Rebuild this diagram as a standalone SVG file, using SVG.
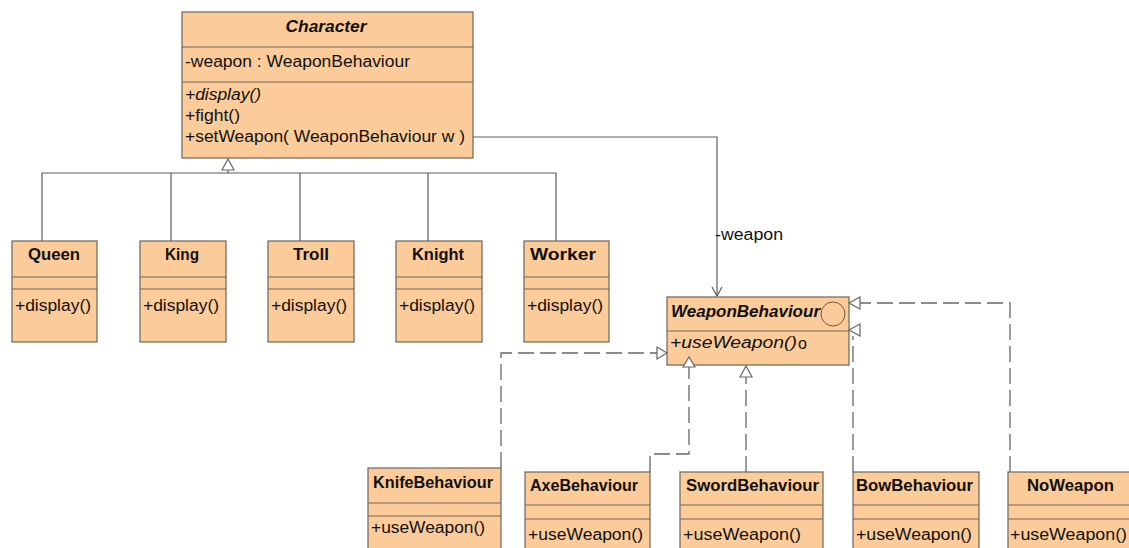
<svg xmlns="http://www.w3.org/2000/svg" width="1129" height="548" viewBox="0 0 1129 548">
  <style>
    .box { fill: #fccb9a; stroke: #6e6458; stroke-width: 1.2; }
    .div { stroke: #6e6458; stroke-width: 1.2; fill: none; }
    .t { font-family: "Liberation Sans", Arial, sans-serif; font-size: 16px; fill: #111; }
    .title { font-family: "Liberation Sans", Arial, sans-serif; font-size: 16px; font-weight: bold; fill: #111; }
    .it { font-style: italic; }
    .line { stroke: #5f5f5f; stroke-width: 1.2; fill: none; }
    .dash { stroke: #666; stroke-width: 1.3; fill: none; stroke-dasharray: 16 6; }
    .tri { fill: #fff; stroke: #666; stroke-width: 1.2; }
  </style>

  <!-- class nodes -->
  <g id="character">
    <rect class="box" x="182" y="12" width="291" height="146"/>
    <line class="div" x1="182" y1="47" x2="473" y2="47"/>
    <line class="div" x1="182" y1="82" x2="473" y2="82"/>
    <text class="title it" x="326" y="32" text-anchor="middle" font-size="17" textLength="81" lengthAdjust="spacingAndGlyphs">Character</text>
    <text class="t" x="185" y="67" textLength="225" lengthAdjust="spacingAndGlyphs">-weapon : WeaponBehaviour</text>
    <text class="t it" x="185" y="100" textLength="76" lengthAdjust="spacingAndGlyphs">+display()</text>
    <text class="t" x="185" y="121" textLength="55" lengthAdjust="spacingAndGlyphs">+fight()</text>
    <text class="t" x="185" y="142" textLength="280" lengthAdjust="spacingAndGlyphs">+setWeapon( WeaponBehaviour w )</text>
  </g>

  <g id="queen">
    <rect class="box" x="12" y="241" width="85" height="101"/>
    <line class="div" x1="12" y1="277" x2="97" y2="277"/>
    <line class="div" x1="12" y1="289" x2="97" y2="289"/>
    <text class="title" x="54" y="260" text-anchor="middle" textLength="52" lengthAdjust="spacingAndGlyphs">Queen</text>
    <text class="t" x="15" y="311" textLength="76" lengthAdjust="spacingAndGlyphs">+display()</text>
  </g>
  <g id="king">
    <rect class="box" x="140" y="241" width="86" height="101"/>
    <line class="div" x1="140" y1="277" x2="226" y2="277"/>
    <line class="div" x1="140" y1="289" x2="226" y2="289"/>
    <text class="title" x="182" y="260" text-anchor="middle" textLength="34" lengthAdjust="spacingAndGlyphs">King</text>
    <text class="t" x="143" y="311" textLength="76" lengthAdjust="spacingAndGlyphs">+display()</text>
  </g>
  <g id="troll">
    <rect class="box" x="268" y="241" width="86" height="101"/>
    <line class="div" x1="268" y1="277" x2="354" y2="277"/>
    <line class="div" x1="268" y1="289" x2="354" y2="289"/>
    <text class="title" x="311" y="260" text-anchor="middle" textLength="36" lengthAdjust="spacingAndGlyphs">Troll</text>
    <text class="t" x="271" y="311" textLength="76" lengthAdjust="spacingAndGlyphs">+display()</text>
  </g>
  <g id="knight">
    <rect class="box" x="396" y="241" width="86" height="101"/>
    <line class="div" x1="396" y1="277" x2="482" y2="277"/>
    <line class="div" x1="396" y1="289" x2="482" y2="289"/>
    <text class="title" x="438" y="260" text-anchor="middle" textLength="52" lengthAdjust="spacingAndGlyphs">Knight</text>
    <text class="t" x="399" y="311" textLength="76" lengthAdjust="spacingAndGlyphs">+display()</text>
  </g>
  <g id="worker">
    <rect class="box" x="524" y="241" width="85" height="101"/>
    <line class="div" x1="524" y1="277" x2="609" y2="277"/>
    <line class="div" x1="524" y1="289" x2="609" y2="289"/>
    <text class="title" x="530" y="260" textLength="66" lengthAdjust="spacingAndGlyphs">Worker</text>
    <text class="t" x="527" y="311" textLength="76" lengthAdjust="spacingAndGlyphs">+display()</text>
  </g>

  <g id="weaponbehaviour">
    <rect class="box" x="667" y="297" width="182" height="68"/>
    <line class="div" x1="667" y1="331" x2="849" y2="331"/>
    <text class="title it" x="671" y="317" textLength="149" lengthAdjust="spacingAndGlyphs">WeaponBehaviour</text>
    <circle cx="833" cy="314" r="12" fill="none" stroke="#6e5a48" stroke-width="1"/>
    <text class="t it" x="670" y="348" textLength="127" lengthAdjust="spacingAndGlyphs">+useWeapon()</text>
    <text class="t" x="798" y="349" font-size="9">o</text>
  </g>

  <g id="knife">
    <rect class="box" x="368" y="468" width="133" height="90"/>
    <line class="div" x1="368" y1="503" x2="501" y2="503"/>
    <line class="div" x1="368" y1="516" x2="501" y2="516"/>
    <text class="title" x="373" y="488" textLength="120" lengthAdjust="spacingAndGlyphs">KnifeBehaviour</text>
    <text class="t" x="371" y="533" textLength="114" lengthAdjust="spacingAndGlyphs">+useWeapon()</text>
  </g>
  <g id="axe">
    <rect class="box" x="525" y="472" width="125" height="90"/>
    <line class="div" x1="525" y1="505" x2="650" y2="505"/>
    <line class="div" x1="525" y1="519" x2="650" y2="519"/>
    <text class="title" x="530" y="491" textLength="108" lengthAdjust="spacingAndGlyphs">AxeBehaviour</text>
    <text class="t" x="528" y="540" textLength="115" lengthAdjust="spacingAndGlyphs">+useWeapon()</text>
  </g>
  <g id="sword">
    <rect class="box" x="680" y="472" width="143" height="90"/>
    <line class="div" x1="680" y1="505" x2="823" y2="505"/>
    <line class="div" x1="680" y1="519" x2="823" y2="519"/>
    <text class="title" x="686" y="491" textLength="133" lengthAdjust="spacingAndGlyphs">SwordBehaviour</text>
    <text class="t" x="683" y="540" textLength="118" lengthAdjust="spacingAndGlyphs">+useWeapon()</text>
  </g>
  <g id="bow">
    <rect class="box" x="853" y="472" width="126" height="90"/>
    <line class="div" x1="853" y1="505" x2="979" y2="505"/>
    <line class="div" x1="853" y1="519" x2="979" y2="519"/>
    <text class="title" x="856" y="491" textLength="117" lengthAdjust="spacingAndGlyphs">BowBehaviour</text>
    <text class="t" x="856" y="540" textLength="116" lengthAdjust="spacingAndGlyphs">+useWeapon()</text>
  </g>
  <g id="noweapon">
    <rect class="box" x="1008" y="472" width="130" height="90"/>
    <line class="div" x1="1008" y1="505" x2="1138" y2="505"/>
    <line class="div" x1="1008" y1="519" x2="1138" y2="519"/>
    <text class="title" x="1027" y="491" textLength="87" lengthAdjust="spacingAndGlyphs">NoWeapon</text>
    <text class="t" x="1010" y="540" textLength="117" lengthAdjust="spacingAndGlyphs">+useWeapon()</text>
  </g>

  <!-- connectors -->
  <g id="connectors">
    <!-- generalization tree to Character -->
    <path class="line" d="M42,241 V173 H556 V241 M171,173 V241 M300,173 V241 M428,173 V241 M228,173 V170"/>
    <polygon class="tri" points="228,159 222,170 234,170"/>

    <!-- association Character -> WeaponBehaviour -->
    <path class="line" d="M473,137 H717 V296"/>
    <polyline class="line" points="712,287 717,296 722,287"/>
    <text class="t" x="715" y="240" textLength="68" lengthAdjust="spacingAndGlyphs">-weapon</text>

    <!-- realizations of WeaponBehaviour -->
    <path class="dash" d="M1010,472 V303 H860"/>
    <polygon class="tri" points="849,303 860,297 860,309"/>

    <path class="dash" d="M853,472 V336"/>
    <polygon class="tri" points="849,330 860,324 860,336"/>

    <path class="dash" d="M501,468 V353 H657"/>
    <polygon class="tri" points="667,353 657,347 657,359"/>

    <path class="dash" d="M650,472 V454 H689 V367"/>
    <polygon class="tri" points="689,357 683,367 695,367"/>

    <path class="dash" d="M746,472 V377"/>
    <polygon class="tri" points="746,366 740,377 752,377"/>
  </g>
</svg>
